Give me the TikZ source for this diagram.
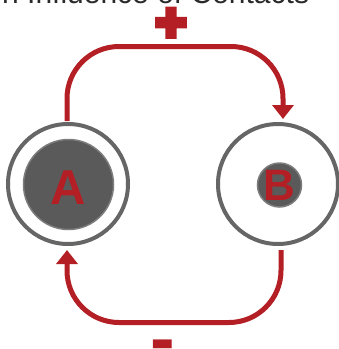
\documentclass[tikz,border=0pt]{standalone}
\usepackage{fontspec}
\setmainfont{Liberation Sans}
\newfontfamily\plusfont[FakeBold=11]{Liberation Sans Bold}
\newfontfamily\minusfont{Liberation Sans Bold}
\usetikzlibrary{arrows.meta}
\definecolor{cred}{HTML}{B31F24}
\definecolor{cgray}{HTML}{666666}
\definecolor{cdark}{HTML}{5A5A5A}
\definecolor{ctitle}{HTML}{2A2A2A}
\tikzset{
  ring/.style={circle, draw=cgray, line width=4pt, minimum size=120pt, inner sep=0pt},
  core/.style={circle, fill=cdark, draw=cgray!85!white, line width=1.5pt, inner sep=0pt},
  letter/.style={text=cred, font=\bfseries},
  conn/.style={draw=cred, line width=5pt, rounded corners=52pt, -{Triangle[width=21pt,length=14pt]}},
  sign/.style={text=cred, inner sep=0pt, anchor=base}
}
\begin{document}
\begin{tikzpicture}[x=1pt,y=-1pt]
\useasboundingbox (0,0) rectangle (339,349);
\node[anchor=base west, inner sep=0pt, text=ctitle, font=\fontsize{30}{30}\selectfont] (title) at (2,3) {n Influence of Contacts};
\node[ring] (A) at (68,184) {};
\node[ring] (B) at (278,184) {};
\node[core, minimum size=90pt] (Acore) at (68.5,184.5) {};
\node[core, minimum size=44pt] (Bcore) at (279.5,185) {};
\node[letter, font=\fontsize{49}{49}\bfseries\selectfont] (Alab) at (68.5,187.5) {A};
\node[letter, font=\fontsize{44}{44}\bfseries\selectfont] (Blab) at (279,185.5) {B};
\coordinate (a1) at (67,121);
\coordinate (b1) at (283,119);
\coordinate (b2) at (281,250);
\coordinate (a2) at (67,250);
\draw[conn] (a1) -- (67,46.5) -- (283,46.5) -- (b1);
\draw[conn] (b2) -- (281,322.5) -- (67,322.5) -- (a2);
\node[sign, font=\fontsize{52}{52}\plusfont\selectfont] (plus) at (171,40) {+};
\node[sign, font=\fontsize{74}{74}\minusfont\selectfont] (minus) at (163,363.5) {-};
\end{tikzpicture}
\end{document}
